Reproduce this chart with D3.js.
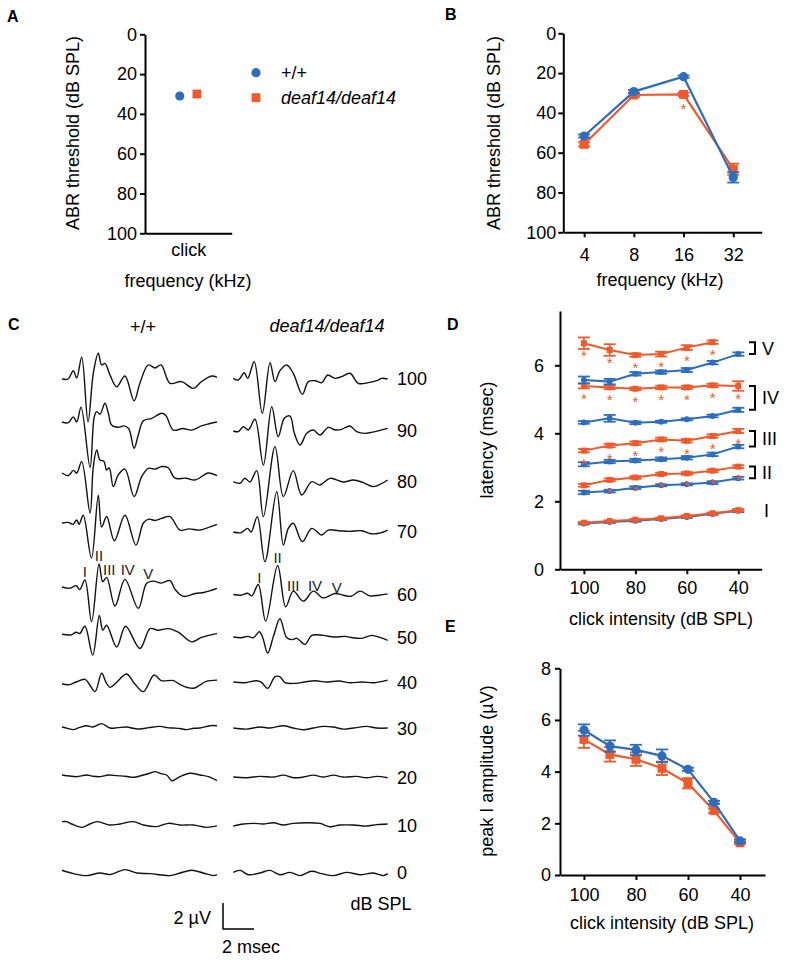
<!DOCTYPE html>
<html>
<head>
<meta charset="utf-8">
<script src="https://cdn.jsdelivr.net/npm/d3@7"></script>
<style>
  body { margin: 0; background: #fff; }
</style>
</head>
<body>
<script>
// couleurs des deux génotypes
const blue = "#2e6cbc", orange = "#ee5a2c";
const FONT = "'Liberation Sans', Arial, Helvetica, sans-serif";

// A : seuil au clic
const clickWT = 31, clickDeaf = 30;
const thrTicks = [0, 20, 40, 60, 80, 100];

// B : seuils par fréquence
const freqs = [4, 8, 16, 32];
const thrWT = [51.6, 29.3, 21.8, 72.4];
const thrWTErr = [0.8, 0.8, 0.6, 2.6];
const thrDeaf = [55.8, 31, 30.7, 68.3];
const thrDeafErr = [1.0, 1.0, 0.8, 2.8];
const thrSig = [0, 0, 1, 0];

// D : latences des pics
const intensities = [100, 90, 80, 70, 60, 50, 40];
const peakNames = ["I", "II", "III", "IV", "V"];
const latWT = [
  [1.35, 1.39, 1.43, 1.48, 1.54, 1.63, 1.72],
  [2.26, 2.30, 2.40, 2.47, 2.50, 2.55, 2.68],
  [3.09, 3.17, 3.20, 3.24, 3.28, 3.38, 3.61],
  [4.32, 4.44, 4.31, 4.34, 4.41, 4.51, 4.69],
  [5.57, 5.52, 5.75, 5.80, 5.86, 6.08, 6.33]
];
const latWTErr = [
  [0.03, 0.03, 0.03, 0.03, 0.03, 0.03, 0.04],
  [0.05, 0.04, 0.04, 0.03, 0.03, 0.04, 0.04],
  [0.06, 0.05, 0.05, 0.05, 0.05, 0.05, 0.05],
  [0.04, 0.10, 0.04, 0.03, 0.03, 0.04, 0.06],
  [0.10, 0.08, 0.05, 0.05, 0.06, 0.05, 0.05]
];
const latDeaf = [
  [1.37, 1.42, 1.46, 1.50, 1.57, 1.65, 1.74],
  [2.47, 2.63, 2.70, 2.80, 2.82, 2.90, 3.02],
  [3.49, 3.64, 3.71, 3.82, 3.78, 3.92, 4.07],
  [5.39, 5.35, 5.31, 5.35, 5.35, 5.41, 5.39],
  [6.65, 6.45, 6.30, 6.33, 6.52, 6.68, null]
];
const latDeafErr = [
  [0.02, 0.02, 0.02, 0.02, 0.02, 0.02, 0.03],
  [0.04, 0.04, 0.04, 0.04, 0.04, 0.04, 0.04],
  [0.05, 0.05, 0.05, 0.05, 0.05, 0.05, 0.06],
  [0.07, 0.05, 0.04, 0.05, 0.05, 0.05, 0.14],
  [0.17, 0.17, 0.05, 0.07, 0.07, 0.05, null]
];
const latSig = [
  [0, 0, 0, 0, 0, 0, 0],
  [0, 1, 1, 1, 1, 1, 1],
  [1, 1, 1, 1, 1, 1, 1],
  [1, 1, 1, 1, 1, 1, 1],
  [1, 1, 1, 1, 1, 1, 0]
];

// E : amplitude du pic I
const ampWT = [5.61, 4.99, 4.84, 4.61, 4.09, 2.81, 1.32];
const ampWTErr = [0.22, 0.22, 0.20, 0.25, 0.06, 0.06, 0.06];
const ampDeaf = [5.25, 4.67, 4.48, 4.13, 3.55, 2.49, 1.25];
const ampDeafErr = [0.33, 0.28, 0.26, 0.26, 0.20, 0.08, 0.05];

// C : tracés ABR, [temps (ms), amplitude (µV)]
const traceLevels = [100, 90, 80, 70, 60, 50, 40, 30, 20, 10, 0];
const offsetWT = [0, 3.31, 7.23, 11.08, 16.0, 19.58, 23.46, 26.77, 30.46, 34.23, 37.92];
const offsetDeaf = [0, 4.0, 7.92, 11.77, 16.58, 19.85, 23.31, 26.85, 30.62, 34.31, 38.0];
const traceWT = [
  [[0,0],[0.39,0],[0.73,0.64],[0.95,0.08],[1.27,1.67],[1.68,-3.3],[2.02,0.44],[2.34,1.98],[2.56,1.08],[2.77,1.2],[3.1,0.3],[3.53,-0.6],[4.06,0.23],[4.65,-1.67],[5.03,-0.3],[5.57,1.08],[6.0,0.85],[6.39,1.08],[6.97,-0.33],[7.72,-0.2],[8.47,-0.72],[9.0,-0.2],[9.66,0.23],[10,0.13]],
  [[0,0],[0.41,-0.05],[0.73,0.4],[0.95,0],[1.23,1.15],[1.81,-3.5],[2.08,0.4],[2.24,0.8],[2.45,0.6],[2.77,1.44],[2.99,0.67],[3.2,-0.23],[3.63,-0.4],[4.0,-0.3],[4.3,-0.5],[4.65,-2.02],[4.92,-1.0],[5.25,0.1],[5.79,0.28],[6.43,0.67],[6.7,0.5],[7.18,-0.62],[7.8,-0.5],[8.37,-0.62],[9.0,-0.3],[9.44,-0.15],[10,0]],
  [[0,0],[0.41,-0.2],[0.73,0.2],[0.95,0],[1.27,0.87],[1.81,-3.08],[2.02,0.5],[2.24,1.77],[2.45,1.0],[2.7,0.9],[2.88,0.23],[3.05,0.4],[3.31,-1.05],[3.63,-0.15],[4.06,0.3],[4.65,-1.82],[5.14,-0.28],[5.57,0.36],[6.0,0.3],[6.43,0.5],[6.85,0.4],[7.29,-0.4],[8.0,-0.4],[8.58,-0.54],[9.44,0],[10,-0.2]],
  [[0,0],[0.4,0.05],[0.7,-0.1],[0.95,0.23],[1.1,-0.1],[1.37,0.6],[1.9,-2.7],[2.34,2.15],[2.56,-0.3],[2.88,0.5],[3.38,-1.36],[4.06,0.6],[4.77,-1.7],[5.25,0],[5.6,0.3],[6.0,0.2],[6.43,0.36],[6.97,0.5],[7.61,-0.54],[8.2,-0.45],[8.9,-0.54],[9.55,-0.3],[10,-0.1]],
  [[0,0],[0.5,-0.1],[0.92,0.1],[1.14,-0.2],[1.48,0.54],[1.91,-2.67],[2.39,1.77],[2.63,0.4],[2.88,0.74],[3.42,-1.46],[4.06,0.59],[4.92,-1.64],[5.46,0.28],[5.9,0.45],[6.4,0.3],[6.97,0.49],[7.3,-0.2],[7.83,-0.72],[8.6,-0.5],[9.2,-0.4],[10,-0.1]],
  [[0,-0.05],[0.6,-0.1],[0.92,0.1],[1.14,0],[1.48,0.56],[1.98,-1.65],[2.41,1.4],[2.63,0.26],[2.88,0.64],[3.53,-1.03],[4.1,0.56],[5.03,-1.15],[5.68,0.38],[6.2,0.25],[6.86,0.38],[7.5,0.1],[8.37,-0.64],[9.0,-0.3],[10,0]],
  [[0,0],[0.5,-0.05],[0.9,0.15],[1.48,0.36],[1.75,0],[2.13,-0.59],[2.56,0.82],[2.85,0.1],[3.1,-0.26],[3.5,0.1],[4.17,0.77],[4.7,0],[5.25,-0.59],[5.94,0.69],[6.4,0.26],[7.2,0.26],[7.55,0],[8.47,-0.33],[9.3,0.2],[10,0.3]],
  [[0,0],[0.35,-0.1],[0.73,-0.2],[1.1,-0.05],[1.59,0.1],[2.0,0],[2.56,0.26],[3.1,-0.08],[3.6,-0.05],[4.17,0],[4.6,-0.1],[5.03,-0.15],[5.6,-0.05],[6.32,0.05],[6.8,-0.05],[7.18,-0.08],[7.6,-0.12],[8.04,-0.2],[8.5,-0.1],[8.9,-0.08],[9.55,0.1],[10,0.1]],
  [[0,0],[0.5,-0.08],[0.95,-0.13],[1.59,0],[2.0,-0.1],[2.45,-0.13],[3.0,0],[3.53,-0.05],[4.1,-0.1],[4.6,-0.18],[5.25,0],[5.7,0.15],[6.0,0.26],[6.4,0.1],[6.75,0],[7.08,-0.44],[7.61,-0.13],[8.26,0.13],[8.9,0],[9.44,-0.13],[10,-0.44]],
  [[0,0.18],[0.3,0.18],[0.62,0],[1.27,-0.26],[1.8,0],[2.24,0.18],[2.7,0.05],[3.1,-0.08],[3.74,0],[4.6,0.18],[5.25,-0.08],[6.1,-0.2],[6.86,0.05],[7.61,-0.08],[8.47,-0.08],[9.33,-0.26],[10,-0.15]],
  [[0,0.13],[0.73,-0.13],[1.59,-0.28],[2.45,-0.08],[3.1,-0.2],[4.06,0.18],[4.82,-0.08],[5.68,-0.13],[6.97,-0.28],[7.61,-0.08],[8.37,0.13],[9.12,-0.08],[9.76,-0.28],[10,-0.2]]
];
const traceDeaf = [
  [[0,0.05],[0.32,-0.08],[0.71,0.48],[0.93,0.05],[1.35,1.33],[1.87,-2.64],[2.37,1.25],[2.69,-0.2],[3.01,0.64],[3.44,1.08],[3.87,0.44],[4.45,-1.18],[4.84,-0.2],[5.27,-0.13],[5.7,-0.28],[6.09,0.31],[6.56,0.05],[6.99,0.18],[7.53,0.44],[8.06,-0.33],[8.71,-0.28],[9.35,-0.08],[9.57,0.05],[9.96,0]],
  [[0,0],[0.32,-0.05],[0.65,0.33],[0.97,0.08],[1.4,0.9],[1.94,-2.62],[2.48,1.87],[2.9,-0.44],[3.29,0.98],[3.66,1.15],[3.94,-0.18],[4.3,-1.08],[4.74,-0.18],[5.16,0.08],[5.59,-0.31],[6.13,0.28],[6.56,0.08],[6.99,0.13],[7.53,0.38],[7.96,-0.05],[8.5,-0.18],[9.14,-0.05],[9.96,0.2]],
  [[0,0],[0.43,-0.1],[0.75,0.28],[1.08,0],[1.51,0.87],[1.94,-2.67],[2.69,2.72],[3.23,-1.13],[3.87,0.87],[4.41,-1.0],[5.06,0.02],[5.59,-0.23],[6.24,0.28],[7.1,0],[7.74,0.15],[8.39,-0.05],[9.03,-0.36],[9.96,0.15]],
  [[0,0],[0.5,-0.05],[0.93,0.28],[1.15,0],[1.55,1.18],[2.04,-2.28],[2.8,3.1],[3.23,-1.0],[3.55,0.28],[3.87,0.67],[4.45,-0.74],[5.06,0.28],[5.7,-0.23],[6.13,0.15],[6.8,0.1],[7.5,0.05],[8.28,0.1],[8.9,-0.13],[9.4,-0.1],[9.96,0.15]],
  [[0,0],[0.5,-0.05],[0.93,0.1],[1.2,-0.1],[1.61,0.77],[2.09,-2.05],[2.86,2.23],[3.38,-0.95],[3.87,0.26],[4.52,-0.51],[5.16,0.26],[5.81,-0.26],[6.56,0.08],[7.1,-0.05],[7.6,-0.13],[8.17,0.26],[8.8,-0.1],[9.4,-0.05],[9.96,0.05]],
  [[0,0],[0.5,-0.05],[0.93,0.05],[1.3,-0.05],[1.68,0.41],[1.9,-0.05],[2.22,-1.23],[2.6,0.1],[3.01,1.41],[3.44,-0.03],[3.8,-0.2],[4.1,-0.1],[4.62,-0.56],[5.06,0.13],[5.8,0.13],[6.5,0],[7.2,0.05],[7.7,-0.05],[8.28,-0.1],[8.93,0.13],[9.5,-0.05],[9.96,-0.25]],
  [[0,0],[0.75,-0.05],[1.5,0.1],[1.8,0],[2.22,-0.49],[2.69,0.41],[3.0,0.41],[3.34,-0.05],[4.0,-0.1],[4.6,0],[5.27,0.1],[6.0,0],[6.8,0.08],[7.5,-0.05],[8.3,0],[9.1,-0.05],[9.96,0.15]],
  [[0,0],[0.86,-0.08],[1.72,0.08],[2.37,0],[3.23,0.18],[3.87,0],[4.52,-0.13],[5.16,0],[5.81,0.13],[6.45,0.08],[7.1,-0.08],[7.74,0],[8.6,0.13],[9.25,0],[9.96,0]],
  [[0,0],[0.86,-0.05],[1.72,0.05],[2.58,0],[3.23,0.15],[3.87,-0.05],[4.52,0],[5.16,0.15],[5.81,0],[6.45,0.15],[7.1,0],[7.96,0.05],[8.6,-0.05],[9.25,0.05],[9.96,-0.05]],
  [[0,-0.08],[0.65,0.08],[1.29,0.13],[1.94,0.08],[2.58,0.18],[3.23,0],[3.87,0.13],[4.73,0.18],[5.59,0.13],[6.24,-0.13],[6.88,0],[7.74,0],[8.6,-0.08],[9.25,0.03],[9.96,0.08]],
  [[0,0.05],[0.43,0.2],[0.97,-0.13],[1.72,0],[2.37,0.2],[3.01,-0.13],[3.66,0.05],[4.3,-0.2],[5.05,0.13],[5.7,-0.05],[6.45,-0.2],[7.31,0.05],[8.17,-0.13],[9.03,0],[9.68,-0.2],[9.96,-0.05]]
];
// étiquettes des pics sur le tracé à 60 dB : [nom, temps, amplitude]
const peakLabelsWT = [["I", 1.48, 1.18], ["II", 2.39, 2.38], ["III", 3.05, 1.36], ["IV", 4.24, 1.31], ["V", 5.57, 1.0]];
const peakLabelsDeaf = [["I", 1.68, 1.33], ["II", 2.86, 2.82], ["III", 3.87, 0.69], ["IV", 5.27, 0.69], ["V", 6.67, 0.51]];

const svg = d3.select("body").append("svg")
  .attr("width", 792).attr("height", 960)
  .attr("font-family", FONT);

function styleAxis(g, fs) {
  g.attr("font-family", FONT).attr("font-size", fs);
  g.selectAll(".domain, .tick line").attr("stroke", "#000").attr("stroke-width", 2);
  g.selectAll(".tick text").attr("fill", "#000");
}

function addText(x, y, txt, opts = {}) {
  const t = svg.append("text").attr("x", x).attr("y", y).text(txt)
    .attr("font-size", opts.size || 18)
    .attr("fill", opts.fill || "#000")
    .attr("text-anchor", opts.anchor || "middle");
  if (opts.bold) t.attr("font-weight", "bold");
  if (opts.italic) t.attr("font-style", "italic");
  if (opts.dy) t.attr("dy", opts.dy);
  if (opts.rotate) t.attr("transform", `rotate(-90,${x},${y})`);
  return t;
}

// série avec barres d'erreur et marqueurs
function drawSeries(xVals, vals, errs, x, y, color, shape, size, capW, lw) {
  const pts = xVals.map((xv, i) => ({ xv, v: vals[i], e: errs[i] })).filter(d => d.v != null);
  const g = svg.append("g");
  g.append("path").datum(pts)
    .attr("fill", "none").attr("stroke", color).attr("stroke-width", lw)
    .attr("d", d3.line().x(d => x(d.xv)).y(d => y(d.v)));
  const eb = g.selectAll(".eb").data(pts.filter(d => d.e > 0)).enter().append("g");
  eb.append("line").attr("x1", d => x(d.xv)).attr("x2", d => x(d.xv))
    .attr("y1", d => y(d.v - d.e)).attr("y2", d => y(d.v + d.e));
  eb.append("line").attr("x1", d => x(d.xv) - capW / 2).attr("x2", d => x(d.xv) + capW / 2)
    .attr("y1", d => y(d.v + d.e)).attr("y2", d => y(d.v + d.e));
  eb.append("line").attr("x1", d => x(d.xv) - capW / 2).attr("x2", d => x(d.xv) + capW / 2)
    .attr("y1", d => y(d.v - d.e)).attr("y2", d => y(d.v - d.e));
  eb.selectAll("line").attr("stroke", color).attr("stroke-width", 1.8);
  if (shape === "circle") {
    g.selectAll("circle").data(pts).enter().append("circle")
      .attr("cx", d => x(d.xv)).attr("cy", d => y(d.v)).attr("r", size / 2).attr("fill", color);
  } else {
    g.selectAll("rect.m").data(pts).enter().append("rect")
      .attr("x", d => x(d.xv) - size / 2).attr("y", d => y(d.v) - size / 2)
      .attr("width", size).attr("height", size).attr("fill", color);
  }
  return pts;
}

// ---------- Panneau A ----------
addText(7, 22, "A", { size: 16, bold: true, anchor: "start" });
const yA = d3.scaleLinear().domain([0, 100]).range([34.3, 233.3]);
const xA = d3.scalePoint().domain(["click"]).range([145, 231.7]).padding(0.5);
svg.append("g").attr("transform", "translate(145,0)")
  .call(d3.axisLeft(yA).tickValues(thrTicks).tickSize(5).tickPadding(3).tickSizeOuter(0))
  .call(styleAxis, 18);
svg.append("g").attr("transform", "translate(0,233.3)")
  .call(d3.axisBottom(xA).tickSize(0).tickPadding(10).tickSizeOuter(0))
  .call(styleAxis, 18);
svg.append("circle").attr("cx", xA("click") - 8.6).attr("cy", yA(clickWT)).attr("r", 4.6).attr("fill", blue);
svg.append("rect").attr("x", xA("click") + 8.6 - 4.4).attr("y", yA(clickDeaf) - 4.4)
  .attr("width", 8.8).attr("height", 8.8).attr("fill", orange);
addText(72.7, 133, "ABR threshold (dB SPL)", { rotate: true, dy: "0.35em" });
addText(188, 287, "frequency (kHz)");
// légende
svg.append("circle").attr("cx", 256).attr("cy", 72.7).attr("r", 4.6).attr("fill", blue);
addText(281, 72.7, "+/+", { anchor: "start", dy: "0.35em" });
svg.append("rect").attr("x", 251.6).attr("y", 93.3).attr("width", 8.8).attr("height", 8.8).attr("fill", orange);
addText(281, 97.7, "deaf14/deaf14", { anchor: "start", dy: "0.35em", italic: true });

// ---------- Panneau B ----------
addText(445, 20, "B", { size: 16, bold: true, anchor: "start" });
const yB = d3.scaleLinear().domain([0, 100]).range([33.3, 232.3]);
const xB = d3.scaleLog().base(2).domain([2.99, 47.6]).range([563.3, 761.7]);
svg.append("g").attr("transform", "translate(563.3,0)")
  .call(d3.axisLeft(yB).tickValues(thrTicks).tickSize(5).tickPadding(2).tickSizeOuter(0))
  .call(styleAxis, 18);
svg.append("g").attr("transform", "translate(0,232.3)")
  .call(d3.axisBottom(xB).tickValues(freqs).tickFormat(d3.format("d")).tickSize(5).tickPadding(11).tickSizeOuter(0))
  .call(styleAxis, 18);
const ptsBDeaf = drawSeries(freqs, thrDeaf, thrDeafErr, xB, yB, orange, "rect", 9, 12, 2.2);
drawSeries(freqs, thrWT, thrWTErr, xB, yB, blue, "circle", 9.2, 12, 2.2);
ptsBDeaf.forEach((d, i) => {
  if (thrSig[i]) addText(xB(d.xv), yB(d.v) + 20, "*", { size: 15, fill: orange });
});
addText(493.3, 133, "ABR threshold (dB SPL)", { rotate: true, dy: "0.35em" });
addText(660, 286, "frequency (kHz)");

// ---------- Panneau C ----------
addText(8, 330, "C", { size: 16, bold: true, anchor: "start" });
addText(143, 333, "+/+");
addText(327, 332, "deaf14/deaf14", { italic: true });
const xL = d3.scaleLinear().domain([0, 10]).range([62, 217]);
const xR = d3.scaleLinear().domain([0, 10]).range([233.3, 388.3]);
const yT = d3.scaleLinear().domain([0, 38]).range([379, 873]);
const traceLine = (x, off) => d3.line()
  .x(d => x(d[0])).y(d => yT(off - d[1]))
  .curve(d3.curveCatmullRom.alpha(0.5));
traceLevels.forEach((lev, i) => {
  svg.append("path").attr("d", traceLine(xL, offsetWT[i])(traceWT[i]))
    .attr("fill", "none").attr("stroke", "#111").attr("stroke-width", 1.4);
  svg.append("path").attr("d", traceLine(xR, offsetDeaf[i])(traceDeaf[i]))
    .attr("fill", "none").attr("stroke", "#111").attr("stroke-width", 1.4);
  addText(397, yT(offsetDeaf[i]), lev, { anchor: "start", dy: "0.36em" });
});
const i60 = traceLevels.indexOf(60);
peakLabelsWT.forEach(p => addText(xL(p[1]), yT(offsetWT[i60] - p[2]), p[0], { size: 15, fill: "#222", dy: "0.36em" }));
peakLabelsDeaf.forEach(p => addText(xR(p[1]), yT(offsetDeaf[i60] - p[2]), p[0], { size: 15, fill: "#222", dy: "0.36em" }));
// barre d'échelle
const sbX = 223, sbY = 929;
svg.append("path")
  .attr("d", `M${sbX},${sbY - (yT(2) - yT(0))}V${sbY}H${sbX + xL(2) - xL(0)}`)
  .attr("fill", "none").attr("stroke", "#000").attr("stroke-width", 1.5);
addText(211, 918, "2 µV", { anchor: "end", dy: "0.35em" });
addText(251, 953, "2 msec");
addText(381, 910, "dB SPL");

// ---------- Panneau D ----------
addText(447, 330, "D", { size: 16, bold: true, anchor: "start" });
const yD = d3.scaleLinear().domain([0, 7.6]).range([569.3, 310.9]);
const xD = d3.scaleLinear().domain([109.3, 30.9]).range([560, 761.7]);
svg.append("g").attr("transform", "translate(560,0)")
  .call(d3.axisLeft(yD).tickValues([0, 2, 4, 6]).tickSize(5).tickPadding(11).tickSizeOuter(0))
  .call(styleAxis, 18);
svg.append("g").attr("transform", "translate(0,569.3)")
  .call(d3.axisBottom(xD).tickValues([100, 80, 60, 40]).tickSize(5).tickPadding(7).tickSizeOuter(0))
  .call(styleAxis, 18);
peakNames.forEach((name, k) => {
  drawSeries(intensities, latWT[k], latWTErr[k], xD, yD, blue, "circle", 6, 12, 2);
  const pts = drawSeries(intensities, latDeaf[k], latDeafErr[k], xD, yD, orange, "rect", 6, 12, 2);
  pts.forEach(d => {
    const i = intensities.indexOf(d.xv);
    if (latSig[k][i]) addText(xD(d.xv), yD(d.v) + 18, "*", { size: 15, fill: orange });
  });
  const lastWT = latWT[k][latWT[k].length - 1];
  if (k === 0) {
    addText(764, yD(lastWT), name, { anchor: "start", dy: "0.36em" });
  } else {
    const lastDeaf = pts[pts.length - 1].v;
    const y1 = yD(lastDeaf), y2 = yD(lastWT);
    svg.append("path").attr("d", `M749,${y1}H755V${y2}H749`)
      .attr("fill", "none").attr("stroke", "#000").attr("stroke-width", 2);
    addText(762, (y1 + y2) / 2, name, { anchor: "start", dy: "0.36em" });
  }
});
addText(486.7, 440, "latency (msec)", { rotate: true, dy: "0.35em" });
addText(661, 625, "click intensity (dB SPL)");

// ---------- Panneau E ----------
addText(445, 632, "E", { size: 16, bold: true, anchor: "start" });
const yE = d3.scaleLinear().domain([0, 8]).range([875, 668.3]);
const xE = d3.scaleLinear().domain([109.2, 30.4]).range([560, 765]);
svg.append("g").attr("transform", "translate(560,0)")
  .call(d3.axisLeft(yE).tickValues([0, 2, 4, 6, 8]).tickSize(5).tickPadding(4).tickSizeOuter(0))
  .call(styleAxis, 18);
svg.append("g").attr("transform", "translate(0,875)")
  .call(d3.axisBottom(xE).tickValues([100, 80, 60, 40]).tickSize(5).tickPadding(8).tickSizeOuter(0))
  .call(styleAxis, 18);
drawSeries(intensities, ampDeaf, ampDeafErr, xE, yE, orange, "rect", 9, 12, 2.2);
drawSeries(intensities, ampWT, ampWTErr, xE, yE, blue, "circle", 9.2, 12, 2.2);
addText(486.7, 771, "peak I amplitude (µV)", { rotate: true, dy: "0.35em" });
addText(662, 929, "click intensity (dB SPL)");
</script>
</body>
</html>
